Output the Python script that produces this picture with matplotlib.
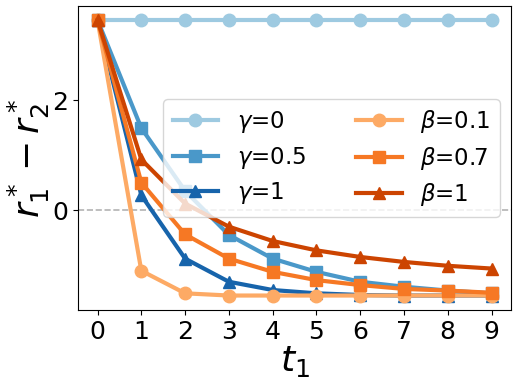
import matplotlib
matplotlib.use("Agg")
import matplotlib.pyplot as plt

t1 = list(range(10))

gamma_0 = [3.45] * 10
gamma_05 = [3.45, 1.49, 0.35, -0.45, -0.88, -1.12, -1.3, -1.39, -1.46, -1.51]
gamma_1 = [3.45, 0.27, -0.88, -1.3, -1.45, -1.51, -1.54, -1.55, -1.55, -1.55]
beta_01 = [3.45, -1.1, -1.51, -1.55, -1.55, -1.55, -1.55, -1.55, -1.55, -1.55]
beta_07 = [3.45, 0.5, -0.44, -0.88, -1.12, -1.27, -1.36, -1.43, -1.46, -1.5]
beta_1 = [3.45, 0.92, 0.12, -0.3, -0.56, -0.73, -0.85, -0.94, -1.01, -1.06]

fig, ax = plt.subplots(figsize=(5.19, 3.88), dpi=100)

ax.axhline(0, color='gray', linestyle='--', alpha=0.6, linewidth=1.2)

ax.plot(t1, gamma_0, marker='o', color='#9ecae1', lw=3, ms=9, label=r'$\gamma$=0')
ax.plot(t1, gamma_05, marker='s', color='#4a98c9', lw=3, ms=9, label=r'$\gamma$=0.5')
ax.plot(t1, gamma_1, marker='^', color='#1764ab', lw=3, ms=9, label=r'$\gamma$=1')
ax.plot(t1, beta_01, marker='o', color='#fdaa65', lw=3, ms=9, label=r'$\beta$=0.1')
ax.plot(t1, beta_07, marker='s', color='#f67824', lw=3, ms=9, label=r'$\beta$=0.7')
ax.plot(t1, beta_1, marker='^', color='#cc4401', lw=3, ms=9, label=r'$\beta$=1')

ax.set_xticks(t1)
ax.set_yticks([0, 2])
ax.set_ylim(-1.82, 3.71)
ax.tick_params(labelsize=18)
ax.set_xlabel(r'$t_1$', fontsize=26, labelpad=0)
ax.set_ylabel(r'$r_1^*-r_2^*$', fontsize=26, labelpad=0)
ax.legend(ncol=2, fontsize=16.5, loc='center right', bbox_to_anchor=(1.0, 0.5),
          handlelength=2, columnspacing=2.2, labelspacing=0.4)

plt.subplots_adjust(left=0.15, right=0.985, top=0.985, bottom=0.2)
plt.savefig('out.png')
